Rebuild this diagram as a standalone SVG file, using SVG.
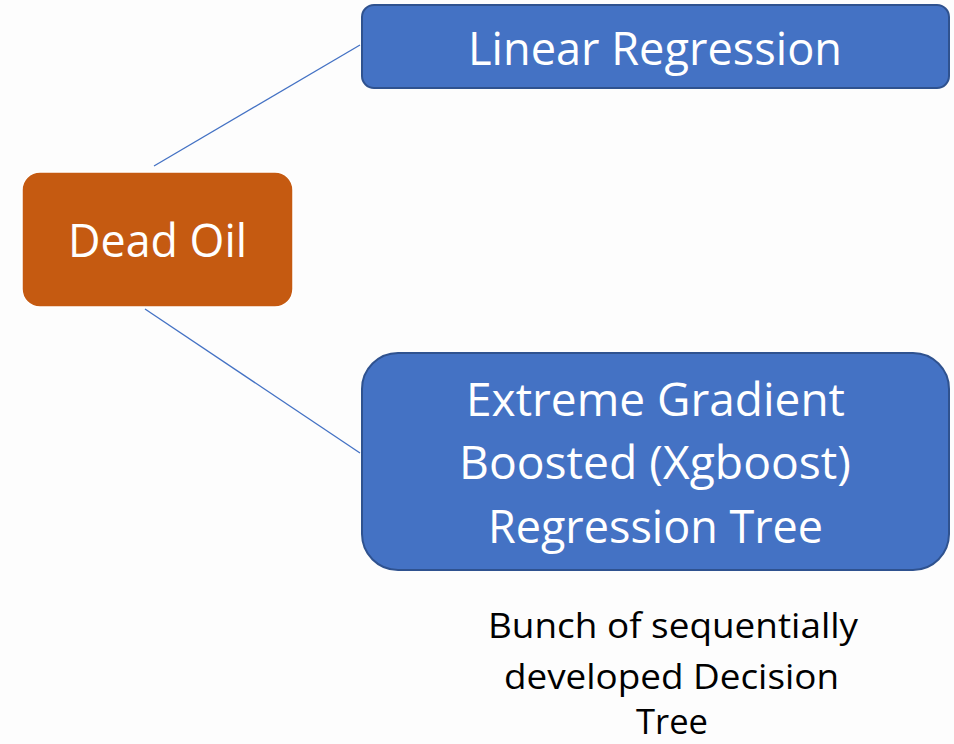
<svg xmlns="http://www.w3.org/2000/svg" width="954" height="744" viewBox="0 0 954 744">
<style>
.blue{fill:#4472C4;stroke:#2F528F;stroke-width:2}
.orange{fill:#C55A11;stroke:#FFFFFF;stroke-width:1.5}
.wt{font-family:"Open Sans","Liberation Sans",sans-serif;fill:#FFFFFF;font-size:45px;text-anchor:middle}
.bt{font-family:"Open Sans","Liberation Sans",sans-serif;fill:#000000;font-size:35px;text-anchor:middle}
.conn{stroke:#4472C4;stroke-width:1.3;fill:none}
</style>
<rect width="954" height="744" fill="#FDFDFD"/>
<g id="connectors">
<line class="conn" x1="154" y1="166" x2="360" y2="45"/>
<line class="conn" x1="145" y1="309" x2="360" y2="453"/>
</g>
<g id="dead-oil">
<rect class="orange" x="22" y="172" width="271" height="135" rx="18"/>
<text class="wt" x="157.5" y="257" textLength="179" lengthAdjust="spacingAndGlyphs">Dead Oil</text>
</g>
<g id="linear-regression">
<rect class="blue" x="362" y="5" width="587" height="83" rx="12"/>
<text class="wt" x="655" y="65" textLength="374" lengthAdjust="spacingAndGlyphs">Linear Regression</text>
</g>
<g id="xgboost">
<rect class="blue" x="362" y="353" width="587" height="217" rx="36"/>
<text class="wt" x="655.5" y="416" textLength="379" lengthAdjust="spacingAndGlyphs">Extreme Gradient</text>
<text class="wt" x="655" y="479" textLength="392" lengthAdjust="spacingAndGlyphs">Boosted (Xgboost)</text>
<text class="wt" x="655.5" y="543" textLength="335" lengthAdjust="spacingAndGlyphs">Regression Tree</text>
</g>
<g id="note">
<text class="bt" x="673" y="638" textLength="370" lengthAdjust="spacingAndGlyphs">Bunch of sequentially</text>
<text class="bt" x="671.5" y="689" textLength="335" lengthAdjust="spacingAndGlyphs">developed Decision</text>
<text class="bt" x="672" y="734" textLength="72" lengthAdjust="spacingAndGlyphs">Tree</text>
</g>
</svg>
